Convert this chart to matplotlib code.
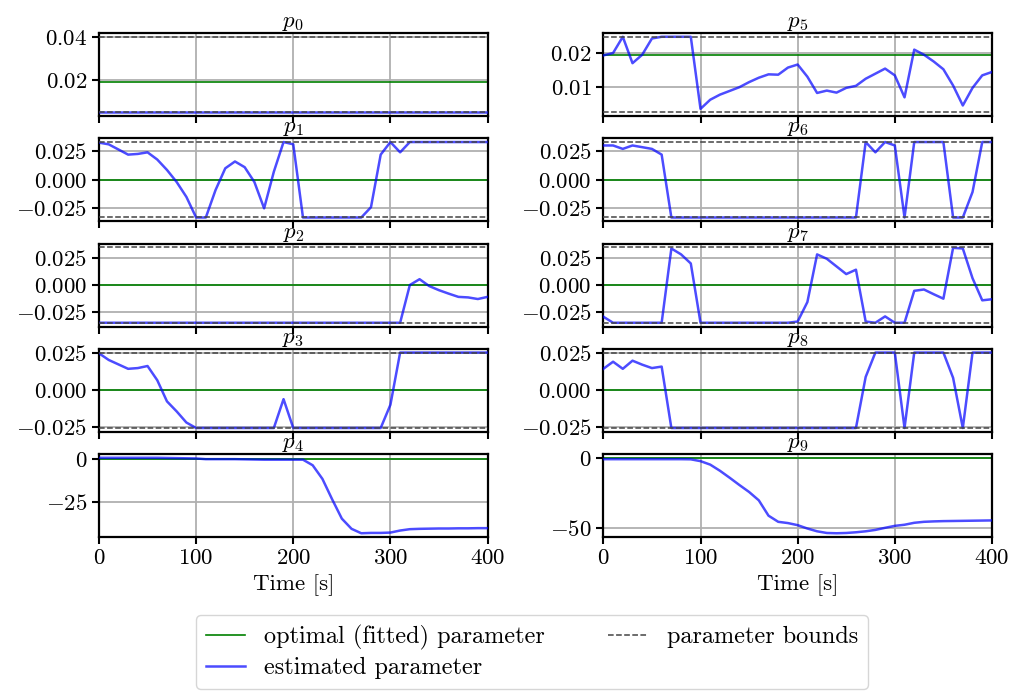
import matplotlib
matplotlib.use("Agg")
import matplotlib.pyplot as plt
from matplotlib.lines import Line2D
from matplotlib.ticker import FixedLocator

plt.rcParams.update({
    "font.family": "serif",
    "font.serif": ["cmr10", "DejaVu Serif"],
    "mathtext.fontset": "cm",
    "axes.formatter.use_mathtext": True,
    "axes.unicode_minus": True,
})

time = [0, 10, 20, 30, 40, 50, 60, 70, 80, 90, 100, 110, 120, 130, 140, 150, 160,
        170, 180, 190, 200, 210, 220, 230, 240, 250, 260, 270, 280, 290, 300, 310,
        320, 330, 340, 350, 360, 370, 380, 390, 400]

titles = ["$p_0$", "$p_1$", "$p_2$", "$p_3$", "$p_4$",
          "$p_5$", "$p_6$", "$p_7$", "$p_8$", "$p_9$"]

p0 = [0.005] * 41
p1 = [0.0325, 0.031, 0.0265, 0.022, 0.0226, 0.024, 0.0177, 0.0086, -0.002, -0.015,
      -0.033, -0.033, -0.009, 0.010, 0.016, 0.011, -0.002, -0.025, 0.007, 0.033,
      0.031, -0.033, -0.033, -0.033, -0.033, -0.033, -0.033, -0.033, -0.024, 0.022,
      0.033, 0.024, 0.033, 0.033, 0.033, 0.033, 0.033, 0.033, 0.033, 0.033, 0.033]
p2 = [-0.035] * 32 + [0.000, 0.0054, -0.001, -0.0048, -0.008, -0.011, -0.0115, -0.013, -0.011]
p3 = [0.025, 0.0205, 0.0175, 0.0145, 0.015, 0.0164, 0.0068, -0.0075, -0.0143, -0.0218,
      -0.0255, -0.0255, -0.0255, -0.0255, -0.0255, -0.0255, -0.0255, -0.0255, -0.0255,
      -0.006,
      -0.0255, -0.0255, -0.0255, -0.0255, -0.0255, -0.0255, -0.0255, -0.0255, -0.0255, -0.0255,
      -0.0098,
      0.0255, 0.0255, 0.0255, 0.0255, 0.0255, 0.0255, 0.0255, 0.0255, 0.0255, 0.0255]
p4 = [0.8, 0.8, 0.8, 0.8, 0.8, 0.8, 0.8, 0.7, 0.6, 0.5, 0.4,
      0.0, 0.0, 0.0, 0.0, -0.1, -0.2, -0.3, -0.3, -0.3, -0.3,
      -0.3, -3.6, -11.6, -23.6, -35.0, -41.0, -43.6, -43.4, -43.4, -43.2,
      -42.0, -41.2, -41.0, -40.9, -40.8, -40.8, -40.7, -40.7, -40.6, -40.6]
p5 = [0.0193, 0.020, 0.0248, 0.017, 0.0195, 0.0243, 0.0248, 0.0248, 0.0248, 0.0248,
      0.0035, 0.0062, 0.0077, 0.0088, 0.0099, 0.0114, 0.0127, 0.0137, 0.0136, 0.0157,
      0.0166, 0.013, 0.0082, 0.0089, 0.0083, 0.0097, 0.0103, 0.0124, 0.0139, 0.0154,
      0.0134, 0.0069, 0.021, 0.0195, 0.0175, 0.0152, 0.0104, 0.0045, 0.0097, 0.0134, 0.0144]
p6 = [0.030, 0.030, 0.027, 0.030, 0.0285, 0.027, 0.022] + [-0.033] * 20 + \
     [0.033, 0.024, 0.033, 0.030, -0.033, 0.033, 0.033, 0.033, 0.033,
      -0.033, -0.033, -0.0107, 0.033, 0.033]
p7 = [-0.029, -0.0345, -0.0345, -0.0345, -0.0345, -0.0345, -0.0345,
      0.0334, 0.028, 0.0197] + [-0.0345] * 10 + \
     [-0.0334, -0.0156, 0.028, 0.024, 0.017, 0.010, 0.014, -0.0334, -0.0345, -0.0287,
      -0.0345, -0.0345, -0.0053, -0.0041, -0.0084, -0.0125, 0.034, 0.0334, 0.0062,
      -0.014, -0.013]
p8 = [0.0145, 0.0193, 0.0145, 0.020, 0.0173, 0.015, 0.016] + [-0.0255] * 20 + \
     [0.009, 0.0255, 0.0255, 0.0255, -0.0255, 0.0255, 0.0255, 0.0255, 0.0255,
      0.0084, -0.0255, 0.0255, 0.0255, 0.0255]
p9 = [-1.0, -1.0, -1.0, -1.0, -1.0, -1.0, -1.0, -1.0, -1.0, -1.1,
      -2.4, -4.9, -9.3, -14.3, -19.5, -24.5, -30.5, -41.5, -45.9, -46.8,
      -48.3, -50.7, -52.7, -53.9, -54.1, -53.9, -53.4, -52.7, -51.7, -50.2,
      -48.8, -48.0, -46.6, -45.9, -45.6, -45.4, -45.3, -45.2, -45.1, -45.0, -44.9]

estimates = [p0, p1, p2, p3, p4, p5, p6, p7, p8, p9]
optimal = [0.0192, 0.0, 0.0, 0.0, 0.0, 0.0193, 0.0, 0.0, 0.0, 0.0]
lower_bounds = [0.005, -0.033, -0.035, -0.0255, None, 0.0025, -0.033, -0.0345, -0.0255, None]
upper_bounds = [0.040, 0.033, 0.035, 0.0255, None, 0.0248, 0.033, 0.0345, 0.0255, None]
yticks = [[0.02, 0.04], [-0.025, 0.0, 0.025], [-0.025, 0.0, 0.025], [-0.025, 0.0, 0.025],
          [-25, 0], [0.01, 0.02], [-0.025, 0.0, 0.025], [-0.025, 0.0, 0.025],
          [-0.025, 0.0, 0.025], [-50, 0]]
xticks = [0, 100, 200, 300, 400]

fig, axes = plt.subplots(5, 2, figsize=(10.15, 6.95), dpi=100, sharex=True)
fig.subplots_adjust(left=0.0975, right=0.9773, top=0.9525, bottom=0.2273,
                    wspace=0.298, hspace=0.268)

FS = 16.5
for i in range(10):
    ax = axes[i % 5, i // 5]
    ax.grid(True, color="#b0b0b0", linewidth=1.3, zorder=0)
    ax.axhline(optimal[i], color="green", linewidth=1.2, zorder=2)
    ax.plot(time, estimates[i], color="blue", alpha=0.7, linewidth=1.8, zorder=3)
    if lower_bounds[i] is not None:
        ax.plot([time[0], time[-1]], [lower_bounds[i]] * 2, color="#444444",
                linestyle="--", linewidth=1.1, zorder=4)
        ax.plot([time[0], time[-1]], [upper_bounds[i]] * 2, color="#444444",
                linestyle="--", linewidth=1.1, zorder=4)
    ax.set_xlim(0, 400)
    ax.xaxis.set_major_locator(FixedLocator(xticks))
    ax.yaxis.set_major_locator(FixedLocator(yticks[i]))
    ax.set_title(titles[i], fontsize=FS, pad=2)
    ax.tick_params(labelsize=FS, width=1.5, length=5)
    for s in ax.spines.values():
        s.set_linewidth(1.6)
    if i % 5 == 4:
        ax.set_xlabel("Time [s]", fontsize=FS)

handles = [Line2D([], [], color="green", linewidth=1.2),
           Line2D([], [], color="blue", alpha=0.7, linewidth=1.8),
           Line2D([], [], color="#444444", linestyle="--", linewidth=1.1)]
labels = ["optimal (fitted) parameter", "estimated parameter", "parameter bounds"]
fig.legend(handles, labels, loc="upper center", bbox_to_anchor=(0.524, 1 - 610 / 695),
           ncol=2, fontsize=17.5, handlelength=1.6, columnspacing=2.6,
           labelspacing=0.3, borderaxespad=0.2)

fig.savefig("out.png", dpi=100)
